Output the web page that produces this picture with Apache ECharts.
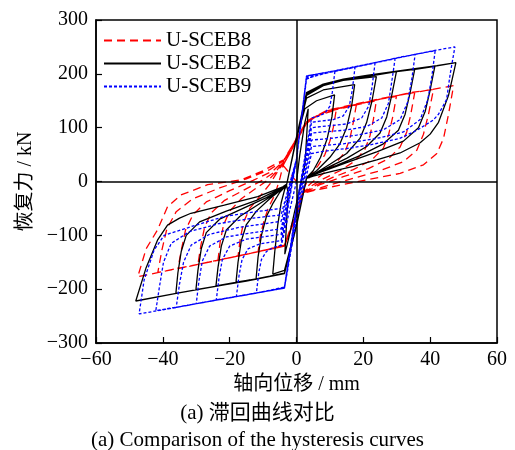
<!DOCTYPE html>
<html>
<head>
<meta charset="utf-8">
<script src="https://cdn.jsdelivr.net/npm/echarts@6/dist/echarts.min.js"></script>
<style>
  html, body { margin: 0; padding: 0; background: #fff; }
  #chart { width: 515px; height: 450px; }
</style>
</head>
<body>
<div id="chart"></div>
<script>
// tick labels
const xTicks = [-60, -40, -20, 0, 20, 40, 60];
const yTicks = [-300, -200, -100, 0, 100, 200, 300];

const seriesNames = ["U-SCEB8", "U-SCEB2", "U-SCEB9"];

// U-SCEB8 (red dashed), loops: [disp mm, force kN]
const sceb8Loops = [
  [[0, 0], [-4, 30], [0, 75], [3, 108], [6, 122], [11.9, 133], [11, 100], [10, 75], [8.5, 50], [6.5, 30], [4, 10], [2, -15], [0, -55], [-3.6, -118], [-8, -125], [-11.5, -131], [-10.8, -100], [-9.8, -75], [-8.5, -50], [-6.5, -25], [-5, 5], [-4, 30]],
  [[0, 75], [3, 110], [8, 128], [17.9, 142], [17, 110], [16, 80], [14.5, 55], [12, 35], [8, 15], [4, -5], [2, -18], [0, -60], [-3.6, -119], [-10, -128], [-17.5, -139], [-16.8, -105], [-15.8, -75], [-14, -50], [-11, -28], [-8, -5], [-5.5, 20], [-4, 33]],
  [[0, 78], [3, 110], [9, 130], [16, 140], [23.9, 150], [23, 115], [22, 85], [20.5, 60], [17.5, 38], [13, 20], [8, 5], [4, -10], [2, -20], [0, -62], [-3.6, -120], [-12, -131], [-23.5, -146], [-22.8, -110], [-21.8, -80], [-20, -55], [-16.5, -32], [-12, -12], [-8, 5], [-5.5, 22], [-4, 35]],
  [[0, 78], [3, 110], [9, 131], [16, 140], [25, 153], [29.9, 158], [28.8, 120], [27.6, 88], [26, 62], [22.5, 40], [17, 22], [11, 8], [6, -6], [2, -21], [0, -63], [-3.6, -120], [-15, -135], [-29.5, -154], [-28.6, -118], [-27.5, -85], [-25.5, -58], [-21.5, -35], [-15.5, -15], [-10, 3], [-6, 20], [-4, 36]],
  [[0, 79], [3, 111], [9, 131], [16, 140], [25, 153], [35.4, 166], [34.2, 125], [33, 92], [31, 64], [27.5, 42], [21.5, 24], [14, 9], [7, -6], [2, -22], [0, -63], [-3.6, -120], [-18, -139], [-35.5, -162], [-34.4, -125], [-33.2, -90], [-31, -62], [-27, -38], [-20, -17], [-13, 2], [-7, 20], [-4, 37]],
  [[0, 80], [3, 111], [9, 131], [25, 153], [35, 166], [41, 171], [39.5, 125], [38, 88], [36, 58], [32, 37], [25, 20], [17, 6], [9, -8], [2, -22], [0, -64], [-3.6, -120], [-24, -147], [-41.5, -169], [-40.2, -125], [-38.8, -88], [-36, -56], [-31, -32], [-23, -12], [-15, 5], [-8, 22], [-4, 38]],
  [[0, 80], [3, 112], [9, 132], [25, 154], [36, 166], [47, 178], [45.5, 125], [44, 80], [42, 52], [38, 31], [31, 15], [21, 3], [12, -8], [5, -17], [2, -22], [0, -65], [-3.6, -120], [-24, -147], [-47.5, -177], [-45, -125], [-41.6, -90], [-38.6, -47], [-34.6, -25], [-26.6, -6], [-16.6, 3], [-10, 20], [-4, 40]]
];

// U-SCEB2 (black solid)
const sceb2Loops = [
  [[0, 0], [1, 50], [2.5, 110], [3.5, 135], [3, 80], [2.5, 30], [0, -40], [-2.5, -110], [-3.5, -135], [-3, -80], [-2.5, -20], [-3, -7]],
  [[0, 80], [2.5, 135], [6, 150], [11.4, 161], [10.6, 120], [9.2, 80], [7.2, 45], [5, 20], [3, 7], [0, -80], [-3.6, -165], [-7.1, -172], [-6.5, -130], [-5.6, -80], [-4.6, -40], [-3.6, -16], [-3, -7]],
  [[0, 80], [3, 155], [8, 170], [17.4, 180], [16.5, 140], [15, 100], [13, 70], [10, 45], [6, 20], [3, 7], [0, -80], [-3.6, -170], [-8, -176], [-12.1, -181], [-11.5, -140], [-10.5, -100], [-9, -65], [-7, -40], [-5, -20], [-3, -7]],
  [[0, 82], [3, 160], [8, 178], [14, 188], [23.9, 195], [22.6, 150], [21, 110], [19, 80], [15, 52], [10, 32], [5, 13], [3, 7], [0, -82], [-3.6, -171], [-12, -181], [-18.1, -187], [-17.5, -150], [-16.5, -110], [-15, -80], [-12, -55], [-8, -32], [-5, -17], [-3, -7]],
  [[0, 82], [3, 162], [8, 179], [14, 188], [21, 195], [29.9, 204], [28.5, 160], [27, 120], [25, 90], [21, 65], [15, 43], [9, 25], [5, 13], [3, 7], [0, -82], [-3.6, -171], [-14, -183], [-24.1, -194], [-23.5, -160], [-22.5, -120], [-21, -90], [-17, -65], [-12, -45], [-7, -25], [-3, -7]],
  [[0, 83], [3, 163], [8, 179], [14, 189], [21, 196], [30, 204], [35.4, 209], [34, 165], [32.5, 125], [30.5, 95], [26, 70], [19, 48], [12, 30], [6, 15], [3, 7], [0, -83], [-3.6, -171], [-15, -185], [-30.1, -201], [-29.5, -165], [-28.5, -125], [-27, -95], [-23, -70], [-16, -50], [-9, -30], [-5, -16], [-3, -7]],
  [[0, 83], [3, 164], [8, 180], [14, 189], [21, 196], [30, 204], [36, 209], [41.4, 214], [40, 170], [38.5, 130], [36.5, 100], [32, 75], [24, 55], [15, 35], [7, 17], [3, 7], [0, -83], [-3.6, -171], [-18, -188], [-36.1, -208], [-35.5, -170], [-34.5, -130], [-33, -100], [-29, -75], [-21, -55], [-12, -35], [-6, -17], [-3, -7]],
  [[0, 83], [3, 165], [8, 181], [14, 190], [21, 197], [30, 205], [36, 210], [42, 215], [47.7, 221], [45.5, 160], [42.5, 110], [40, 88], [37, 72], [31, 53], [24, 40], [17, 28], [10, 18], [5, 10], [3, 6], [0, -83], [-3.6, -171], [-20, -190], [-36, -208], [-48.1, -222], [-45, -160], [-41.6, -109], [-38.6, -81], [-35, -68], [-31.6, -59], [-21.6, -44], [-11.6, -28], [-4.1, -10], [-3, -5]]
];

// U-SCEB9 (blue dotted)
const sceb9Loops = [
  [[0, 0], [-4.6, -120], [0, 40], [3, 190], [7, 200], [11.5, 205], [10.7, 165], [10, 140], [8.5, 127], [6.5, 121], [4.5, 118], [0, -45], [-3.6, -196], [-8, -202], [-12, -207], [-11.3, -170], [-10.5, -145], [-9, -130], [-7, -123], [-4.6, -118]],
  [[0, 40], [3, 192], [10, 203], [17.5, 212], [16.7, 170], [15.8, 140], [14, 122], [11, 115], [7, 112], [4.5, 110], [0, -48], [-3.6, -197], [-10, -205], [-18, -214], [-17.2, -175], [-16.3, -145], [-14.5, -125], [-11, -116], [-7, -112], [-4.6, -110]],
  [[0, 42], [3, 194], [11, 204], [23.5, 220], [22.6, 175], [21.6, 140], [19.5, 118], [15, 107], [9, 103], [4.5, 100], [0, -50], [-3.6, -198], [-12, -207], [-24, -220], [-23.2, -180], [-22.2, -145], [-20, -120], [-15, -107], [-9, -102], [-4.6, -98]],
  [[0, 42], [3, 195], [11, 205], [20, 216], [29.5, 228], [28.5, 185], [27.5, 145], [25.5, 118], [21, 102], [14, 95], [8, 92], [4.5, 90], [0, -52], [-3.6, -198], [-12, -207], [-20, -216], [-30, -227], [-29.2, -185], [-28.2, -148], [-26, -120], [-21, -103], [-13, -95], [-4.6, -88]],
  [[0, 42], [3, 196], [11, 205], [20, 216], [29, 228], [35.5, 236], [34.5, 190], [33.3, 148], [31, 115], [26, 96], [18, 86], [10, 80], [4.5, 77], [0, -55], [-3.6, -198], [-12, -207], [-24, -220], [-36, -234], [-35, -190], [-33.8, -150], [-31.5, -118], [-26, -98], [-17, -85], [-9, -78], [-4.6, -74]],
  [[0, 42], [3, 196], [11, 205], [20, 216], [31, 231], [41.5, 243], [40.5, 195], [39.3, 152], [37, 115], [32, 92], [24, 80], [14, 70], [4.5, 65], [0, -58], [-3.6, -198], [-18, -214], [-30, -227], [-42.1, -240], [-41, -195], [-39.8, -150], [-37.5, -115], [-32, -93], [-23, -78], [-13, -68], [-4.6, -62]],
  [[0, 42], [3, 196], [11, 205], [26, 224], [41, 243], [47.4, 250], [46, 200], [44.9, 152], [42.5, 125], [40.9, 114], [36, 95], [30.9, 80], [22, 68], [15.9, 62], [8, 56], [4.5, 52], [0, -70], [-3.6, -198], [-24, -220], [-36, -234], [-47.1, -246], [-45.6, -183], [-42.6, -127], [-39.6, -100], [-37.6, -96], [-31.6, -84], [-21.6, -65], [-12, -56], [-4.6, -50]]
];

const FONT = "'Liberation Serif', 'Noto Sans CJK SC', serif";
const minus = (v) => String(v).replace("-", "\u2212");

const chart = echarts.init(document.getElementById("chart"));

const option = {
  animation: false,
  backgroundColor: "#fff",
  textStyle: { fontFamily: FONT, color: "#000" },
  title: [
    {
      text: "(a) 滞回曲线对比",
      left: "center",
      top: 398,
      textStyle: { fontFamily: FONT, fontSize: 21, fontWeight: "normal", color: "#000" },
    },
    {
      text: "(a) Comparison of the hysteresis curves",
      left: "center",
      top: 425,
      textStyle: { fontFamily: FONT, fontSize: 21, fontWeight: "normal", color: "#000" },
    },
  ],
  legend: {
    data: seriesNames,
    orient: "vertical",
    left: 98,
    top: 25,
    itemWidth: 57,
    itemHeight: 14,
    itemGap: 2,
    itemStyle: { opacity: 0 },
    textStyle: { fontFamily: FONT, fontSize: 21, color: "#000" },
  },
  grid: {
    left: 96,
    right: 18,
    top: 20,
    bottom: 107,
    show: true,
    borderColor: "#000",
    borderWidth: 1.5,
    containLabel: false,
  },
  xAxis: {
    type: "value",
    min: -60,
    max: 60,
    interval: 20,
    name: "轴向位移 / mm",
    nameLocation: "middle",
    nameGap: 31,
    nameTextStyle: { fontFamily: FONT, fontSize: 20, color: "#000" },
    axisLine: { onZero: false, lineStyle: { color: "#000", width: 1.5 } },
    axisTick: { inside: true, length: 6, lineStyle: { color: "#000", width: 1.2 } },
    axisLabel: { formatter: minus, fontFamily: FONT, fontSize: 20, color: "#000", margin: 7 },
    splitLine: { show: false },
  },
  yAxis: {
    type: "value",
    min: -300,
    max: 300,
    interval: 100,
    name: "恢复力 / kN",
    nameLocation: "middle",
    nameGap: 58,
    nameRotate: 90,
    nameTextStyle: { fontFamily: FONT, fontSize: 20, color: "#000" },
    axisLine: { onZero: false, lineStyle: { color: "#000", width: 1.5 } },
    axisTick: { inside: true, length: 6, lineStyle: { color: "#000", width: 1.2 } },
    axisLabel: { formatter: minus, fontFamily: FONT, fontSize: 20, color: "#000", margin: 8 },
    splitLine: { show: false },
  },
  series: [
    {
      name: seriesNames[0],
      type: "line",
      data: sceb8Loops.flat(),
      symbol: "none",
      smooth: false,
      lineStyle: { color: "#ff0000", width: 1.3, type: [8, 5] },
      itemStyle: { color: "#ff0000" },
    },
    {
      name: seriesNames[1],
      type: "line",
      data: sceb2Loops.flat(),
      symbol: "none",
      smooth: false,
      lineStyle: { color: "#000", width: 1.3, type: "solid" },
      itemStyle: { color: "#000" },
      markLine: {
        silent: true,
        symbol: "none",
        label: { show: false },
        lineStyle: { color: "#000", width: 1.5, type: "solid" },
        data: [{ xAxis: 0 }, { yAxis: 0 }],
      },
    },
    {
      name: seriesNames[2],
      type: "line",
      data: sceb9Loops.flat(),
      symbol: "none",
      smooth: false,
      lineStyle: { color: "#0000ff", width: 1.3, type: [3, 2] },
      itemStyle: { color: "#0000ff" },
    },
  ],
};

chart.setOption(option);
window.addEventListener("resize", function () {
  chart.resize();
});
</script>
</body>
</html>
